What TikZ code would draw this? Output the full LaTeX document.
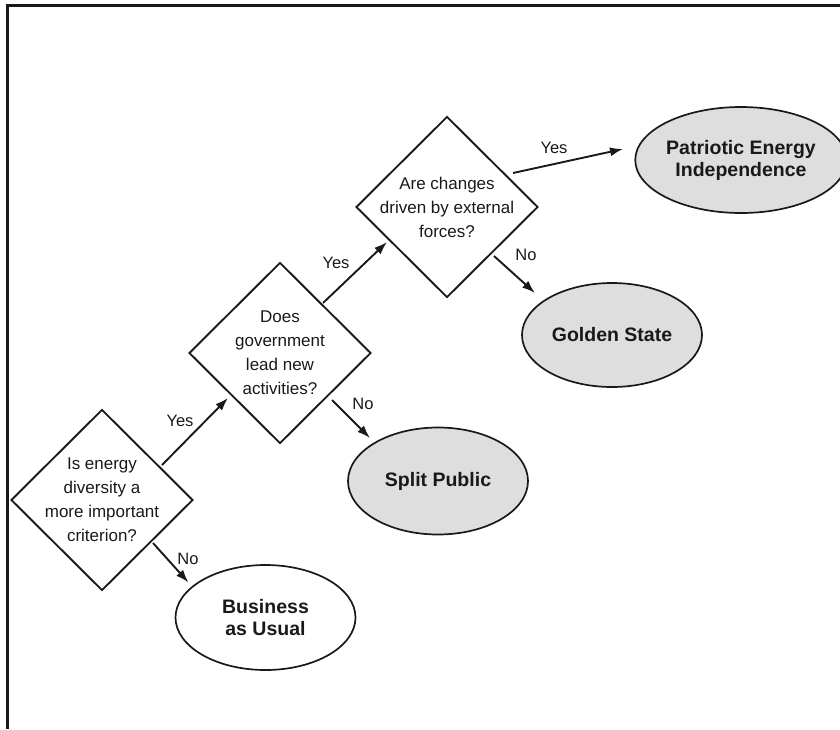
\documentclass[tikz,border=0pt]{standalone}
\usepackage{fontspec}
\setmainfont{Liberation Sans}
\usetikzlibrary{shapes.geometric,arrows.meta,calc}
\definecolor{ovalgray}{RGB}{222,222,222}
\definecolor{ink}{RGB}{25,25,25}
\begin{document}
\begin{tikzpicture}[x=1pt,y=-1pt,
  question/.style={draw=ink, line width=1.9pt, shape=diamond, inner sep=-12pt,
    minimum width=182pt, minimum height=181pt, align=center, text=ink,
    font=\fontsize{17}{24}\selectfont},
  outcome/.style={draw=ink, line width=1.7pt, ellipse, inner sep=0pt,
    minimum width=180pt, minimum height=106pt, align=center, text=ink,
    font=\fontsize{19.5}{22}\selectfont\bfseries},
  grayout/.style={outcome, fill=ovalgray},
  flow/.style={draw=ink, line width=1.9pt, -{Latex[length=13pt,width=9pt]}},
  answer/.style={font=\fontsize{16.5}{20}\selectfont, inner sep=0pt, text=ink},
  frame/.style={draw=ink, line width=3pt}]
\useasboundingbox (0,0) rectangle (840,729);
% frame (top and left only)
\coordinate (fbl) at (7.5,729);
\coordinate (ftl) at (7.5,5.5);
\coordinate (ftr) at (840,5.5);
\draw[frame] (fbl) -- (ftl) -- (ftr);

% decisions
\node[question] (d1) at (102,500) {Is energy\\diversity a\\more important\\criterion?};
\node[question] (d2) at (280,353) {Does\\government\\lead new\\activities?};
\node[question] (d3) at (447,207) {Are changes\\driven by external\\forces?};

% outcomes
\node[grayout] (pei) at (741,160) {Patriotic Energy\\Independence};
\node[grayout, minimum height=104pt] (gs) at (612,335) {Golden State};
\node[grayout, minimum height=107pt] (sp) at (438,481) {Split Public};
\node[outcome, minimum height=105pt] (bau) at (265.5,617.5) {Business\\as Usual};

% connectors
\draw[flow] ($(d1)+(60,-35)$) -- ($(d2)+(-52,45)$);
\draw[flow] ($(d2)+(43,-50)$) -- ($(d3)+(-60,35)$);
\draw[flow] ($(d3)+(66,-34)$) -- ($(pei)+(-118,-11)$);
\draw[flow] ($(d1)+(51,43)$) -- ($(bau)+(-77,-35)$);
\draw[flow] ($(d2)+(52,47)$) -- ($(sp)+(-68,-43)$);
\draw[flow] ($(d3)+(47,49)$) -- ($(gs)+(-77,-42)$);

% labels
\node[answer] (y1) at (180,421) {Yes};
\node[answer] (n1) at (188,559) {No};
\node[answer] (y2) at (336,263) {Yes};
\node[answer] (n2) at (363,404) {No};
\node[answer] (y3) at (554,148) {Yes};
\node[answer] (n3) at (526,255) {No};
\end{tikzpicture}
\end{document}
